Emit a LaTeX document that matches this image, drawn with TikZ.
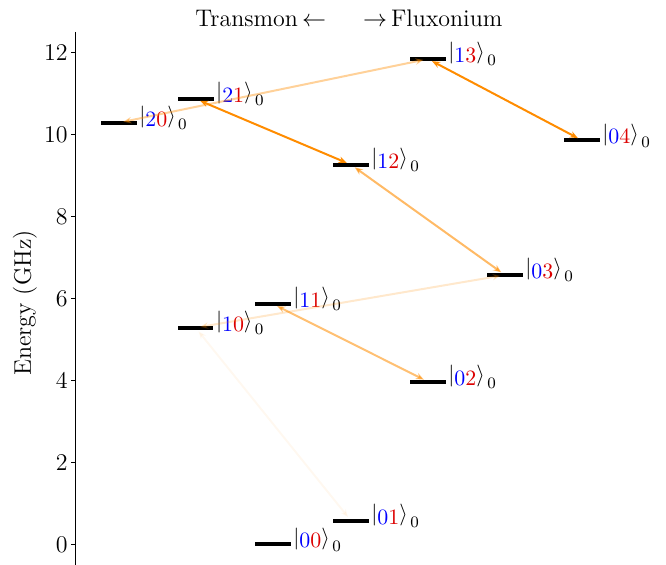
\documentclass[tikz,border=0pt]{standalone}
\usetikzlibrary{arrows.meta}
\definecolor{dorange}{RGB}{255,140,0}
\definecolor{kblue}{RGB}{0,0,255}
\definecolor{kred}{RGB}{220,0,0}
\newcommand{\myket}[2]{$\raisebox{1.9pt}{$\bigl|$}\textcolor{kblue}{#1}\textcolor{kred}{#2}\raisebox{1.9pt}{$\bigr\rangle$}\mkern2mu{}_{0}$}
\begin{document}
\begin{tikzpicture}[x=0.5pt,y=-0.5pt,
  level/.style={rectangle, fill=black, inner sep=0pt, minimum width=17.8pt, minimum height=2pt},
  ketlbl/.style={anchor=base west, inner sep=0pt, font=\fontsize{10.8}{13}\selectfont},
  trans/.style={draw=dorange, line width=1pt, {Stealth[length=4pt,width=3.2pt]}-{Stealth[length=4pt,width=3.2pt]}, shorten <=2.3pt, shorten >=2.3pt},
  ticklbl/.style={anchor=east, inner sep=0pt, font=\fontsize{12}{14}\selectfont},
  big/.style={inner sep=0pt, font=\fontsize{12}{14}\selectfont}]
\useasboundingbox (0,0) rectangle (666,565);
% axis
\coordinate (atop) at (75.5,32);
\coordinate (abot) at (75.5,565);
\draw[line width=0.5pt] (atop) -- (abot);
\foreach \e in {0,2,...,12} {
  \coordinate (tk\e) at (75.5,{544.3-40.98*\e});
  \draw[line width=0.5pt] (tk\e) -- ++(-4.5,0);
  \node[ticklbl] (t\e) at (68,{544.3-40.98*\e}) {\e};
}
\node[big, rotate=90] (ylab) at (25,303) {Energy (GHz)};
\node[big, anchor=base west] (ttl) at (195,27) {Transmon\,$\leftarrow$};
\node[big, anchor=base west] (ttr) at (362.7,27) {$\rightarrow$\,Fluxonium};
% levels
\node[level] (s00) at (273,544.3) {};
\node[level] (s01) at (351,520.7) {};
\node[level] (s10) at (195.6,327.7) {};
\node[level] (s11) at (273,304) {};
\node[level] (s02) at (428,381.7) {};
\node[level] (s03) at (505,275) {};
\node[level] (s12) at (351,164.7) {};
\node[level] (s20) at (118.9,122.7) {};
\node[level] (s21) at (195.8,99) {};
\node[level] (s13) at (428,59) {};
\node[level] (s04) at (582,140.3) {};
% labels
\foreach \a/\b in {0/0,0/1,1/0,1/1,0/2,0/3,1/2,2/0,2/1,1/3,0/4} {
  \node[ketlbl] (l\a\b) at ([xshift=0.9pt,yshift=-1.85pt]s\a\b.east) {\myket{\a}{\b}};
}
% transitions
\draw[trans, opacity=0.06] (s01.center) -- (s10.center);
\draw[trans, opacity=0.2] (s10.center) -- (s03.center);
\draw[trans, opacity=0.4] (s20.center) -- (s13.center);
\draw[trans, opacity=0.55] (s11.center) -- (s02.center);
\draw[trans, opacity=0.6] (s12.center) -- (s03.center);
\draw[trans] (s21.center) -- (s12.center);
\draw[trans] (s13.center) -- (s04.center);
\end{tikzpicture}
\end{document}
